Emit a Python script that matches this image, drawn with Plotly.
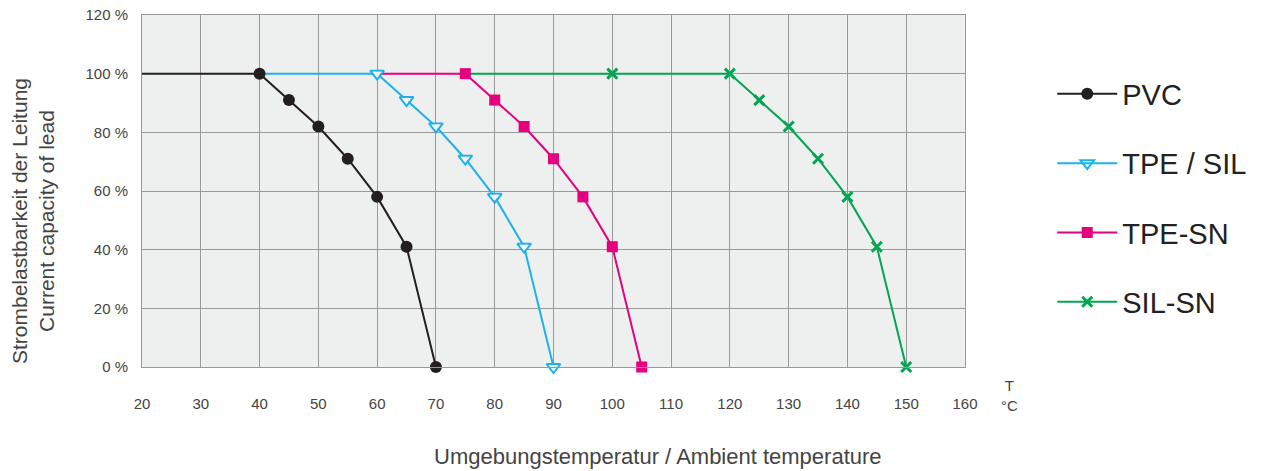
import plotly.graph_objects as go

# ---- data ----
pvc_x = [40, 45, 50, 55, 60, 65, 70]
pvc_y = [100, 91, 82, 71, 58, 41, 0]
pvc_start = 20

tpe_sil_x = [60, 65, 70, 75, 80, 85, 90]
tpe_sil_y = [100, 91, 82, 71, 58, 41, 0]
tpe_sil_start = 40

tpe_sn_x = [75, 80, 85, 90, 95, 100, 105]
tpe_sn_y = [100, 91, 82, 71, 58, 41, 0]
tpe_sn_start = 60

sil_sn_x = [100, 120, 125, 130, 135, 140, 145, 150]
sil_sn_y = [100, 100, 91, 82, 71, 58, 41, 0]
sil_sn_start = 75

x_ticks = [20, 30, 40, 50, 60, 70, 80, 90, 100, 110, 120, 130, 140, 150, 160]
y_ticks = [0, 20, 40, 60, 80, 100, 120]
y_tick_labels = [f"{v} %" for v in y_ticks]

series = [
    # name, start, xs, ys, color, symbol, size, rank
    ("SIL-SN", sil_sn_start, sil_sn_x, sil_sn_y, "#00a651", "x-thin-open", 10, 4),
    ("TPE-SN", tpe_sn_start, tpe_sn_x, tpe_sn_y, "#e6007e", "square", 11, 3),
    ("TPE / SIL", tpe_sil_start, tpe_sil_x, tpe_sil_y, "#1fb1ea", "triangle-down-open", 12, 2),
    ("PVC", pvc_start, pvc_x, pvc_y, "#231f20", "circle", 12, 1),
]

W, H = 1270, 471
L, T = 142, 15
PW, PH = 823, 352

fig = go.Figure()
for name, start, xs, ys, color, symbol, size, rank in series:
    # leading flat segment
    fig.add_trace(go.Scatter(
        x=[start, xs[0]], y=[ys[0], ys[0]], mode="lines",
        line=dict(color=color, width=2), showlegend=False, hoverinfo="skip",
        cliponaxis=False,
    ))
for name, start, xs, ys, color, symbol, size, rank in series:
    open_sym = "open" in symbol
    fig.add_trace(go.Scatter(
        x=xs, y=ys, mode="lines+markers", name=name,
        legendrank=rank, legendgroup=name,
        line=dict(color=color, width=2),
        marker=dict(symbol=symbol, size=size, color=color,
                    line=dict(color=color, width=(3 if "x-thin" in symbol else 2) if open_sym else 0)),
        cliponaxis=False,
    ))
# white fill inside the open triangles
fig.add_trace(go.Scatter(
    x=tpe_sil_x, y=tpe_sil_y, mode="markers", showlegend=False, hoverinfo="skip",
    marker=dict(symbol="triangle-down", size=8, color="#f4f5f5"), cliponaxis=False,
))

fig.update_layout(
    width=W, height=H,
    margin=dict(l=L, r=W - L - PW, t=T, b=H - T - PH, autoexpand=False),
    paper_bgcolor="white", plot_bgcolor="#eeefef",
    font=dict(family="Liberation Sans, Arial, sans-serif", color="#555555", size=15),
    xaxis=dict(range=[20, 160], tickvals=x_ticks, showgrid=True, gridcolor="#999999",
               gridwidth=1, zeroline=False, showline=True, linecolor="#999999", mirror=True,
               ticks="", ticklabelstandoff=23, automargin=False, ticklabeloverflow="allow",
               tickfont=dict(size=15, color="#444444")),
    yaxis=dict(range=[0, 120], tickvals=y_ticks, ticktext=y_tick_labels, showgrid=True,
               gridcolor="#999999", gridwidth=1, zeroline=False, showline=True,
               linecolor="#999999", mirror=True, ticks="", ticklabelstandoff=10,
               automargin=False, ticklabeloverflow="allow",
               tickfont=dict(size=15, color="#444444")),
    legend=dict(x=1.106, y=0.848, xanchor="left", yanchor="top",
                font=dict(size=29, color="#222222"), traceorder="grouped",
                tracegroupgap=28.6, bgcolor="rgba(0,0,0,0)", itemwidth=60),
    showlegend=True,
)

fig.add_annotation(text="Umgebungstemperatur / Ambient temperature", xref="paper", yref="paper",
                   x=(658 - 142) / PW, y=-(456 - 367) / PH, yanchor="middle", showarrow=False,
                   font=dict(size=22, color="#444444"))
fig.add_annotation(text="Strombelastbarkeit der Leitung<br>Current capacity of lead",
                   xref="paper", yref="paper", x=(33 - 142) / PW, y=(367 - 221) / PH,
                   textangle=-90, showarrow=False, xanchor="center", yanchor="middle",
                   font=dict(size=21, color="#444444"))
fig.add_annotation(text="T<br>°C", xref="paper", yref="paper", x=(1009 - 142) / PW,
                   y=-0.08, showarrow=False, xanchor="center", yanchor="middle", align="center",
                   font=dict(size=15, color="#444444"))

# remove the default page margin so the figure sits at the window corner
fig.write_html("out.html", config={"displayModeBar": False},
               post_script="document.body.style.margin='0px';")
